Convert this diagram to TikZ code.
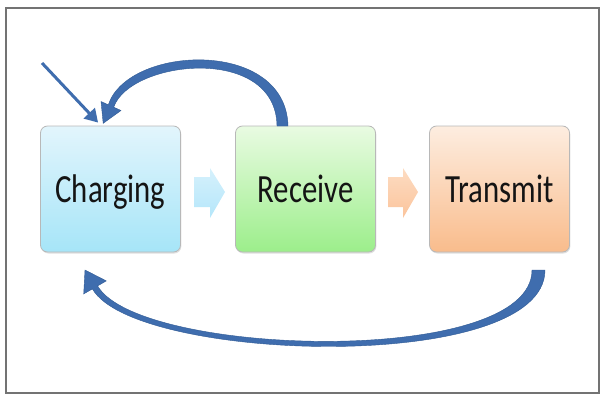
\documentclass[tikz,border=0pt]{standalone}
\usepackage{fontspec}
\setmainfont{Carlito}
\usepackage{graphicx}
\usetikzlibrary{calc,shadows,arrows.meta}
\definecolor{arrowblue}{HTML}{3F6DAE}
\definecolor{arrowedge}{HTML}{2F5A94}
\definecolor{bluetop}{HTML}{E2F5FC}
\definecolor{bluebot}{HTML}{A6E5F8}
\definecolor{greentop}{HTML}{E9FBE2}
\definecolor{greenbot}{HTML}{9CEE8B}
\definecolor{orangetop}{HTML}{FDEDE0}
\definecolor{orangebot}{HTML}{F9BC8C}
\definecolor{chevblue1}{HTML}{D6F1FC}
\definecolor{chevblue2}{HTML}{B4E6FA}
\definecolor{chevor1}{HTML}{FDDCC2}
\definecolor{chevor2}{HTML}{FBC49C}
\newcommand\lbl[1]{\scalebox{0.77}[1]{\fontsize{40}{40}\selectfont #1}}
\begin{document}
\begin{tikzpicture}[x=1pt,y=-1pt,
  box/.style={rounded corners=7pt, draw=black!28, line width=0.8pt,
    minimum width=140pt, minimum height=126pt, inner sep=0pt,
    text height=26pt, text depth=0pt, text=black!92,
    drop shadow={opacity=0.25,shadow xshift=0.8pt,shadow yshift=-1.5pt}},
  bigarrow/.style={fill=arrowblue, draw=arrowedge, line width=0.4pt},
  chev/.style={draw=none}]
\useasboundingbox (0,0) rectangle (601,396);
\draw[black!55, line width=1.5pt] (6,8) rectangle (599,393);

\node[box, top color=bluetop, bottom color=bluebot] (ch) at (110.5,189) {\lbl{Charging}};
\node[box, top color=greentop, bottom color=greenbot] (rec) at (305.5,189) {\lbl{Receive}};
\node[box, top color=orangetop, bottom color=orangebot] (tr) at (499.5,189) {\lbl{Transmit}};

% chevron arrows
\shade[chev, top color=chevblue1, bottom color=chevblue2]
  (194,177) -- (210,177) -- (210,168) -- (225,192) -- (210,218) -- (210,207) -- (194,207) -- cycle;
\shade[chev, top color=chevor1, bottom color=chevor2]
  (388,177) -- (403,177) -- (403,168) -- (418,192) -- (403,218) -- (403,207) -- (388,207) -- cycle;

% straight incoming arrow
\coordinate (instart) at (42,63);
\coordinate (inend) at ($(ch.north west)+(58,-3)$);
\draw[arrowblue, line width=3pt, -{Triangle[length=13pt,width=15pt]}] (instart) -- (inend);

% top arc: Receive -> Charging
\path[bigarrow] (288,126) .. controls (286,38) and (128,45) .. (108.3,104.8)
  -- (101,101.5) -- (103.2,123.3) -- (121,110.5) -- (113.7,107.2)
  .. controls (130,60) and (276,44) .. (277,126) -- cycle;

% bottom arc: Transmit -> Charging
\path[bigarrow] (545,270) .. controls (545,375) and (134.5,362.6) .. (92.4,288.9)
  -- (83.7,293.9) -- (85,270) -- (106.3,280.9) -- (97.6,285.9)
  .. controls (138.6,356.9) and (532,368) .. (532,270) -- cycle;
\end{tikzpicture}
\end{document}
